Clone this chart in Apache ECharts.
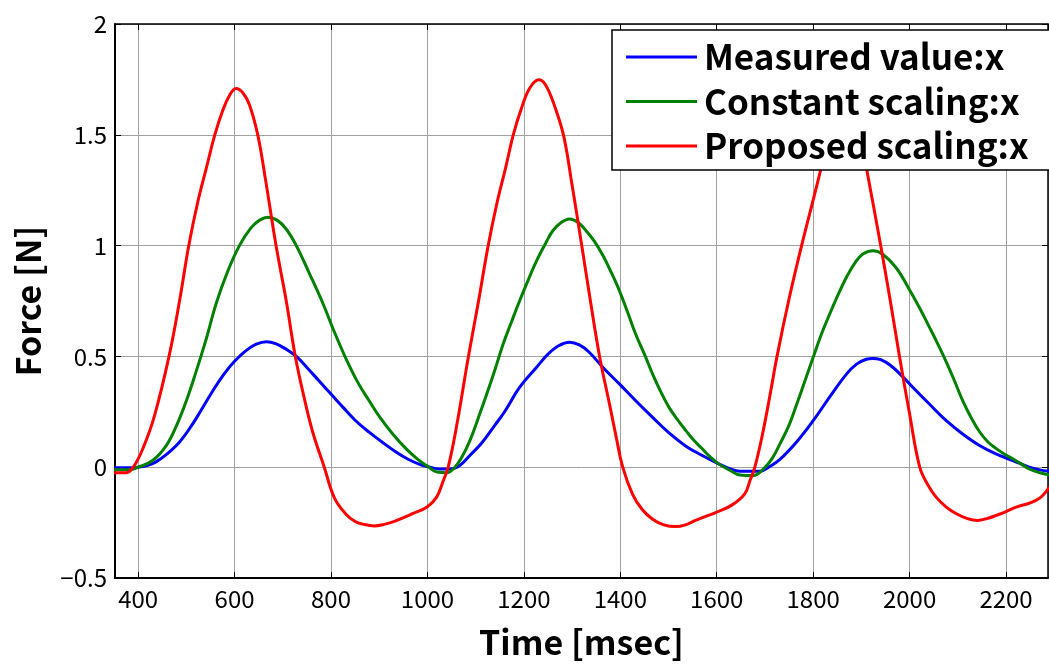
<!DOCTYPE html>
<html>
<head>
<meta charset="utf-8">
<title>Force vs Time</title>
<script src="https://cdn.jsdelivr.net/npm/echarts@6/dist/echarts.min.js"></script>
<style>
  html, body { margin: 0; padding: 0; background: #fff; }
  #chart { width: 1049px; height: 664px; }
</style>
</head>
<body>
<div id="chart"></div>
<script>
// Series names shown in the legend
const seriesNames = ['Measured value:x', 'Constant scaling:x', 'Proposed scaling:x'];

// Measured value:x  (time in msec, force in N)
const timeMeasured = [350, 380, 400, 420, 438, 460, 486, 510, 530, 555, 578, 600, 625, 645, 666, 685, 705, 728, 750, 775, 800, 825, 850, 879, 905, 934, 960, 985, 1005,
  1025, 1047, 1067, 1088, 1113, 1140, 1160, 1191, 1226, 1250, 1272, 1295, 1315, 1335, 1364, 1398, 1432, 1467, 1501, 1536, 1570, 1604,
  1628, 1648, 1690, 1710, 1731, 1766, 1800, 1834, 1869, 1890, 1910, 1924, 1940, 1960, 1985, 2007, 2041, 2076, 2110, 2145, 2179, 2214, 2248, 2270, 2290];
const forceMeasured = [-0.003, -0.003, 0, 0.008, 0.025, 0.06, 0.114, 0.185, 0.255, 0.345, 0.42, 0.478, 0.528, 0.555, 0.566, 0.558, 0.535, 0.5, 0.45, 0.39, 0.33, 0.27, 0.212, 0.158, 0.115, 0.07, 0.036, 0.012, 0.0,
  -0.008, -0.008, 0.008, 0.053, 0.11, 0.19, 0.25, 0.36, 0.45, 0.51, 0.548, 0.564, 0.552, 0.52, 0.45, 0.376, 0.30, 0.225, 0.155, 0.095, 0.053, 0.015,
  -0.008, -0.018, -0.018, 0.003, 0.035, 0.115, 0.21, 0.316, 0.42, 0.465, 0.487, 0.491, 0.485, 0.46, 0.41, 0.36, 0.285, 0.21, 0.15, 0.098, 0.06, 0.03, 0.0, -0.012, -0.018];

// Constant scaling:x
const timeConstant = [350, 380, 400, 430, 459, 480, 500, 520, 540, 562, 585, 610, 634, 652, 669, 688, 707, 728, 755, 783, 807, 831, 855, 879, 903, 928, 955, 980, 1000,
  1020, 1040, 1055, 1070, 1088, 1110, 1123, 1140, 1157, 1175, 1191, 1210, 1226, 1245, 1260, 1278, 1295, 1312, 1329, 1346, 1364, 1381, 1398, 1415, 1432, 1450,
  1467, 1484, 1501, 1520, 1536, 1553, 1570, 1587, 1604, 1628, 1648, 1676, 1697, 1715, 1731, 1750, 1766, 1783, 1800, 1817, 1834, 1852, 1869, 1886, 1903,
  1924, 1945, 1972, 2000, 2024, 2041, 2058, 2075, 2093, 2110, 2128, 2145, 2162, 2179, 2196, 2214, 2231, 2248, 2270, 2290];
const forceConstant = [-0.012, -0.012, 0, 0.03, 0.1, 0.19, 0.3, 0.43, 0.57, 0.74, 0.88, 1.0, 1.08, 1.115, 1.128, 1.115, 1.075, 1.0, 0.875, 0.74, 0.61, 0.49, 0.385, 0.3, 0.22, 0.15, 0.085, 0.035, 0.005,
  -0.022, -0.025, -0.005, 0.04, 0.12, 0.25, 0.33, 0.44, 0.556, 0.66, 0.75, 0.85, 0.93, 1.01, 1.067, 1.105, 1.12, 1.105, 1.067, 1.02, 0.955, 0.88, 0.797, 0.70, 0.60, 0.51,
  0.42, 0.34, 0.27, 0.21, 0.165, 0.12, 0.083, 0.045, 0.015, -0.015, -0.035, -0.038, -0.008, 0.04, 0.105, 0.19, 0.285, 0.39, 0.496, 0.6, 0.69, 0.78, 0.857, 0.92, 0.962,
  0.977, 0.96, 0.9, 0.8, 0.705, 0.632, 0.558, 0.48, 0.39, 0.3, 0.222, 0.16, 0.115, 0.085, 0.06, 0.038, 0.015, -0.008, -0.025, -0.035];

// Proposed scaling:x
const timeProposed = [350, 375, 390, 410, 434, 464, 486, 505, 524, 541, 559, 576, 590, 603, 617, 631, 648, 664, 686, 707, 726, 745, 762, 786,
  807, 831, 850, 866, 890, 910, 934, 969, 1000, 1019, 1033, 1043, 1060, 1085, 1106, 1126, 1145, 1162, 1178, 1195, 1212, 1231, 1245, 1262, 1282, 1298,
  1320, 1338, 1357, 1378, 1392, 1405, 1425, 1445, 1467, 1490, 1515, 1535, 1556, 1580, 1600, 1632, 1658, 1669, 1679, 1695, 1710, 1725, 1750, 1776,
  1797, 1817, 1835, 1852, 1868, 1882, 1896, 1910, 1925, 1940, 1960, 1979, 2000, 2021, 2038, 2055, 2076, 2097, 2120, 2141, 2160, 2179, 2200, 2221,
  2245, 2262, 2275, 2290];
const forceProposed = [-0.025, -0.025, 0, 0.085, 0.233, 0.5, 0.752, 1.0, 1.2, 1.346, 1.5, 1.613, 1.68, 1.709, 1.69, 1.635, 1.5, 1.3, 1.0, 0.752, 0.5, 0.307, 0.159, 0,
  -0.138, -0.212, -0.245, -0.257, -0.265, -0.258, -0.242, -0.21, -0.178, -0.135, -0.06, 0, 0.18, 0.5, 0.75, 1.0, 1.2, 1.35, 1.5, 1.62, 1.71, 1.748, 1.725, 1.64, 1.5, 1.3,
  1.0, 0.75, 0.5, 0.28, 0.13, 0, -0.12, -0.19, -0.235, -0.26, -0.268, -0.26, -0.24, -0.22, -0.203, -0.17, -0.12, -0.06, 0, 0.15, 0.32, 0.5, 0.76, 1.0,
  1.18, 1.355, 1.52, 1.65, 1.71, 1.67, 1.53, 1.355, 1.18, 1.0, 0.75, 0.5, 0.24, 0, -0.08, -0.135, -0.18, -0.21, -0.232, -0.24, -0.232, -0.218, -0.2, -0.18,
  -0.165, -0.15, -0.13, -0.09];

const lineColors = ['#0000ff', '#008000', '#ff0000'];

const pairs = (ts, vs) => ts.map((t, i) => [t, vs[i]]);
const seriesData = [
  pairs(timeMeasured, forceMeasured),
  pairs(timeConstant, forceConstant),
  pairs(timeProposed, forceProposed)
];

const uiFont = '"Noto Sans CJK JP", "Noto Sans", sans-serif';
const minusFmt = v => (v < 0 ? '\u2212' + Math.abs(v) : String(v));

const chart = echarts.init(document.getElementById('chart'), null, { renderer: 'canvas' });

const xCommon = {
  type: 'value',
  min: 352,
  max: 2287,
  splitNumber: 10,
  minInterval: 200,
  maxInterval: 200
};
const yCommon = {
  type: 'value',
  min: -0.5,
  max: 2,
  interval: 0.5
};
const innerTick = { show: true, inside: true, length: 6, lineStyle: { color: '#000', width: 1 } };

chart.setOption({
  animation: false,
  backgroundColor: '#ffffff',
  grid: { left: 115, right: 1, top: 24, bottom: 79, containLabel: false },
  xAxis: [
    Object.assign({}, xCommon, {
      position: 'bottom',
      name: 'Time [msec]',
      nameLocation: 'middle',
      nameGap: 47,
      nameTextStyle: { fontFamily: uiFont, fontWeight: 'bold', fontSize: 34, color: '#000' },
      axisLine: { show: true, onZero: false, lineStyle: { color: '#000', width: 2 } },
      axisTick: innerTick,
      axisLabel: { show: true, margin: 9, fontFamily: uiFont, fontSize: 24, color: '#000',
        showMinLabel: false, showMaxLabel: false, formatter: v => String(v) },
      splitLine: { show: true, lineStyle: { color: '#a0a0a0', width: 1 } }
    }),
    Object.assign({}, xCommon, {
      position: 'top',
      axisLine: { show: true, onZero: false, lineStyle: { color: '#000', width: 1.5 } },
      axisTick: innerTick,
      axisLabel: { show: false },
      splitLine: { show: false }
    })
  ],
  yAxis: [
    Object.assign({}, yCommon, {
      position: 'left',
      name: 'Force [N]',
      nameLocation: 'middle',
      nameGap: 70,
      nameTextStyle: { fontFamily: uiFont, fontWeight: 'bold', fontSize: 34, color: '#000' },
      axisLine: { show: true, onZero: false, lineStyle: { color: '#000', width: 2 } },
      axisTick: innerTick,
      axisLabel: { show: true, margin: 8, fontFamily: uiFont, fontSize: 24, color: '#000', formatter: minusFmt },
      splitLine: { show: true, lineStyle: { color: '#a0a0a0', width: 1 } }
    }),
    Object.assign({}, yCommon, {
      position: 'right',
      axisLine: { show: true, onZero: false, lineStyle: { color: '#000', width: 1.5 } },
      axisTick: innerTick,
      axisLabel: { show: false },
      splitLine: { show: false }
    })
  ],
  legend: {
    z: 20,
    left: 612,
    top: 30,
    orient: 'vertical',
    data: seriesNames.map((name, i) => ({ name: name, icon: 'rect', itemStyle: { color: lineColors[i] } })),
    backgroundColor: '#ffffff',
    borderColor: '#000',
    borderWidth: 1.5,
    borderRadius: 0,
    padding: [9, 60, 6, 14],
    itemWidth: 71,
    itemHeight: 3,
    itemGap: 8.5,
    selectedMode: false,
    textStyle: {
      fontFamily: uiFont,
      fontWeight: 'bold',
      fontSize: 35,
      lineHeight: 36,
      color: '#000',
      padding: [0, 0, 0, 2]
    }
  },
  series: seriesNames.map((name, i) => ({
    name: name,
    type: 'line',
    xAxisIndex: 0,
    yAxisIndex: 0,
    data: seriesData[i],
    symbol: 'none',
    smooth: 0.4,
    lineStyle: { color: lineColors[i], width: 3 },
    itemStyle: { color: lineColors[i] },
    z: 2
  }))
});
</script>
</body>
</html>
